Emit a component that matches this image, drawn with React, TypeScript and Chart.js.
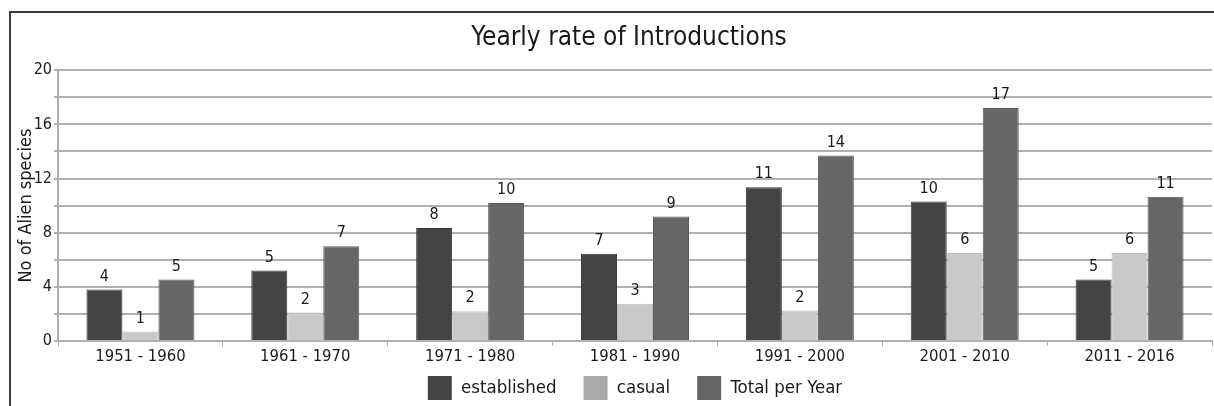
import React, { useEffect, useRef } from "react";
import { Chart, registerables } from "chart.js";

Chart.register(...registerables);

const categories = ["1951 - 1960", "1961 - 1970", "1971 - 1980", "1981 - 1990", "1991 - 2000", "2001 - 2010", "2011 - 2016"];
const established = [3.8, 5.2, 8.35, 6.45, 11.35, 10.3, 4.55];
const casual = [0.7, 2.1, 2.2, 2.75, 2.25, 6.5, 6.5];
const totalPerYear = [4.55, 7.0, 10.2, 9.2, 13.7, 17.2, 10.65];
const establishedLabels = ["4", "5", "8", "7", "11", "10", "5"];
const casualLabels = ["1", "2", "2", "3", "2", "6", "6"];
const totalLabels = ["5", "7", "10", "9", "14", "17", "11"];
const yTicks = [0, 4, 8, 12, 16, 20];

const FONT = "'DejaVu Sans', sans-serif";
const STRETCH = "condensed";

const frameAndLabels = {
  id: "frameAndLabels",
  afterLayout(chart: any) {
    if (chart.titleBlock) {
      chart.titleBlock.left += 17;
      chart.titleBlock.right += 17;
    }
    if (chart.legend) {
      chart.legend.left += 46;
    }
    const xs = chart.scales.x;
    if (xs) {
      xs._computeLabelArea = () => undefined;
    }
  },
  beforeDraw(chart: any) {
    const ctx = chart.ctx;
    ctx.save();
    ctx.fillStyle = "#ffffff";
    ctx.fillRect(0, 0, chart.width, chart.height);
    ctx.restore();
  },
  afterDraw(chart: any) {
    const ctx = chart.ctx;
    ctx.save();
    ctx.strokeStyle = "#3a3a3a";
    ctx.lineWidth = 2;
    ctx.beginPath();
    ctx.moveTo(10, chart.height);
    ctx.lineTo(10, 12);
    ctx.lineTo(chart.width, 12);
    ctx.stroke();
    ctx.restore();
  },
  afterDatasetsDraw(chart: any) {
    const ctx = chart.ctx;
    const labelSets = [establishedLabels, casualLabels, totalLabels];
    ctx.save();
    ctx.font = STRETCH + " 16px " + FONT;
    ctx.fillStyle = "#1a1a1a";
    ctx.textAlign = "center";
    ctx.textBaseline = "bottom";
    chart.data.datasets.forEach((_: any, di: number) => {
      const meta = chart.getDatasetMeta(di);
      meta.data.forEach((bar: any, i: number) => {
        ctx.fillText(labelSets[di][i], bar.x, bar.y - 5);
      });
    });
    ctx.restore();
  },
};

export default function App() {
  const ref = useRef<HTMLCanvasElement>(null);
  useEffect(() => {
    if (!ref.current) return;
    const legendColors = ["#444444", "#aaaaaa", "#666666"];
    const chart = new Chart(ref.current, {
      type: "bar",
      data: {
        labels: categories,
        datasets: [
          { label: "established", data: established, backgroundColor: "#444444", borderColor: "#3a3a3a", borderWidth: 1 },
          { label: "casual", data: casual, backgroundColor: "#c9c9c9", borderColor: "#c0c0c0", borderWidth: 1 },
          { label: "Total per Year", data: totalPerYear, backgroundColor: "#666666", borderColor: "#5a5a5a", borderWidth: 1 },
        ],
      },
      options: {
        responsive: false,
        animation: false,
        devicePixelRatio: 1,
        layout: { padding: { left: 12, right: 2, top: 14, bottom: -4 } },
        datasets: { bar: { categoryPercentage: 0.655, barPercentage: 1 } },
        plugins: {
          tooltip: { enabled: false },
          title: {
            display: true,
            text: "Yearly rate of Introductions",
            color: "#1a1a1a",
            font: { family: FONT, size: 26, weight: STRETCH, lineHeight: 1.2 },
            padding: { top: 9, bottom: 16 },
          },
          legend: {
            position: "bottom",
            labels: {
              color: "#1a1a1a",
              font: { family: FONT, size: 18.5, weight: STRETCH },
              boxWidth: 24,
              boxHeight: 24,
              padding: 27,
              generateLabels: (c: any) =>
                c.data.datasets.map((ds: any, i: number) => ({
                  text: ds.label,
                  fillStyle: legendColors[i],
                  strokeStyle: legendColors[i],
                  lineWidth: 0,
                  hidden: false,
                  datasetIndex: i,
                  fontColor: "#1a1a1a",
                })),
            },
          },
        },
        scales: {
          x: {
            afterFit: (s: any) => { s.height = 8; },
            grid: { display: true, drawOnChartArea: false, offset: true, tickLength: 5, color: "#b0b0b0" },
            border: { display: true, color: "#b0b0b0", width: 2 },
            ticks: { color: "#1a1a1a", font: { family: FONT, size: 16.5, weight: STRETCH }, padding: 1, maxRotation: 0 },
          },
          y: {
            min: 0,
            max: 20,
            afterFit: (s: any) => { s.width = 46; },
            grid: { color: "#b0b0b0", lineWidth: 2, tickLength: 4 },
            border: { display: true, color: "#b0b0b0", width: 2 },
            ticks: {
              stepSize: 2,
              color: "#1a1a1a",
              font: { family: FONT, size: 16, weight: STRETCH },
              padding: 2,
              callback: (v: any) => (yTicks.includes(Number(v)) ? String(v) : ""),
            },
            title: {
              display: true,
              text: "No of Alien species",
              color: "#1a1a1a",
              font: { family: FONT, size: 18, weight: STRETCH },
              padding: { top: 4, bottom: 0 },
            },
          },
        },
      },
      plugins: [frameAndLabels],
    });
    return () => chart.destroy();
  }, []);
  return (
    <div style={{ position: "absolute", left: 0, top: 0, width: 1214, height: 406 }}>
      <canvas ref={ref} width={1214} height={406} style={{ display: "block" }} />
    </div>
  );
}
